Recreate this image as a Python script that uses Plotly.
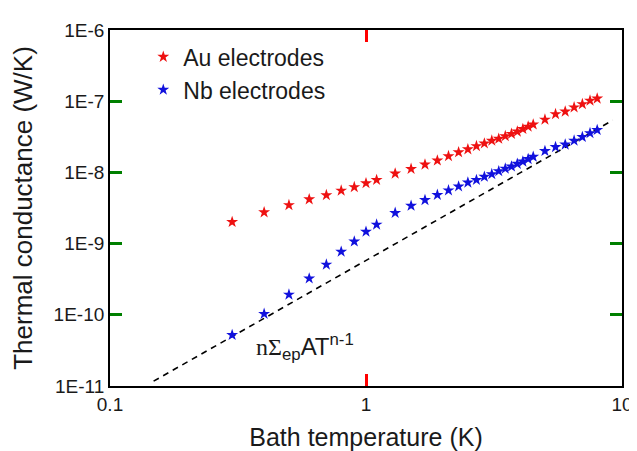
import plotly.graph_objects as go

# Data
T_au = [0.3, 0.4, 0.5, 0.6, 0.7, 0.8, 0.9, 1.0, 1.1,
        1.3, 1.5, 1.7, 1.9, 2.1, 2.3, 2.5, 2.7, 2.9, 3.1, 3.3, 3.5, 3.7, 3.9, 4.1, 4.3, 4.5,
        5.0, 5.5, 6.0, 6.5, 7.0, 7.5, 8.0]
G_au = [2.01e-9, 2.75e-9, 3.47e-9, 4.19e-9, 4.79e-9, 5.55e-9, 6.21e-9, 7.05e-9, 7.83e-9,
        9.64e-9, 1.12e-8, 1.29e-8, 1.47e-8, 1.69e-8, 1.92e-8, 2.11e-8, 2.34e-8, 2.55e-8,
        2.79e-8, 2.97e-8, 3.23e-8, 3.48e-8, 3.75e-8, 4.07e-8, 4.39e-8, 4.71e-8,
        5.51e-8, 6.59e-8, 7.15e-8, 8.20e-8, 9.10e-8, 1.02e-7, 1.09e-7]

T_nb = T_au
G_nb = [5.2e-11, 1.03e-10, 1.92e-10, 3.24e-10, 5.07e-10, 7.7e-10, 1.07e-9, 1.47e-9, 1.85e-9,
        2.70e-9, 3.40e-9, 4.09e-9, 4.83e-9, 5.60e-9, 6.35e-9, 7.20e-9, 7.83e-9, 8.69e-9,
        9.45e-9, 1.04e-8, 1.13e-8, 1.21e-8, 1.32e-8, 1.42e-8, 1.54e-8, 1.66e-8,
        2.00e-8, 2.27e-8, 2.46e-8, 2.79e-8, 3.14e-8, 3.56e-8, 3.94e-8]

T_fit = [0.148, 9.2]
G_fit = [1.17e-11, 5.4e-8]

x_tickvals = [0.1, 1, 10]
x_ticktext = ["0.1", "1", "10"]
y_tickvals = [1e-11, 1e-10, 1e-9, 1e-8, 1e-7, 1e-6]
y_ticktext = ["1E-11", "1E-10", "1E-9", "1E-8", "1E-7", "1E-6"]

FONT = "Liberation Sans"
TXT = "#1a1a1a"

fig = go.Figure()
fig.add_trace(go.Scatter(x=T_fit, y=G_fit, mode="lines", showlegend=False,
                         line=dict(color="black", width=1.6, dash="6px,5px")))
fig.add_trace(go.Scatter(x=T_au, y=G_au, mode="markers", name="Au electrodes",
                         marker=dict(symbol="star", size=9, color="#ee1111", line=dict(width=0))))
fig.add_trace(go.Scatter(x=T_nb, y=G_nb, mode="markers", name="Nb electrodes",
                         marker=dict(symbol="star", size=9, color="#1111dd", line=dict(width=0))))

fig.update_layout(
    xaxis=dict(type="log", range=[-1, 1], tickvals=x_tickvals, ticktext=x_ticktext,
               showline=True, linecolor="black", linewidth=1.8, mirror="allticks",
               ticks="inside", ticklen=12, tickwidth=3, tickcolor="red",
               showgrid=False,
               tickfont=dict(family=FONT, size=19, color=TXT),
               title=dict(text="Bath temperature (K)", font=dict(family=FONT, size=25, color=TXT))),
    yaxis=dict(type="log", range=[-11, -6], tickvals=y_tickvals, ticktext=y_ticktext,
               showline=True, linecolor="black", linewidth=1.8, mirror="allticks",
               ticks="inside", ticklen=12, tickwidth=3, tickcolor="green",
               showgrid=False,
               tickfont=dict(family=FONT, size=19, color=TXT),
               title=dict(text="Thermal conductance (W/K)", font=dict(family=FONT, size=26, color=TXT))),
)

fig.add_annotation(xref="paper", yref="paper", x=0.281, y=0.11, xanchor="left", yanchor="middle",
                   showarrow=False,
                   text="<span style='font-family:Liberation Serif'>nΣ</span><sub>ep</sub>AT<sup>n-1</sup>",
                   font=dict(family=FONT, size=24, color=TXT))

fig.update_layout(
    width=637, height=451,
    margin=dict(l=98, r=12, t=18, b=65),
    paper_bgcolor="white", plot_bgcolor="white",
    legend=dict(x=0.065, y=0.985, xanchor="left", yanchor="top", bgcolor="rgba(0,0,0,0)",
                font=dict(family=FONT, size=23, color=TXT)),
)

fig.write_html("out.html")
